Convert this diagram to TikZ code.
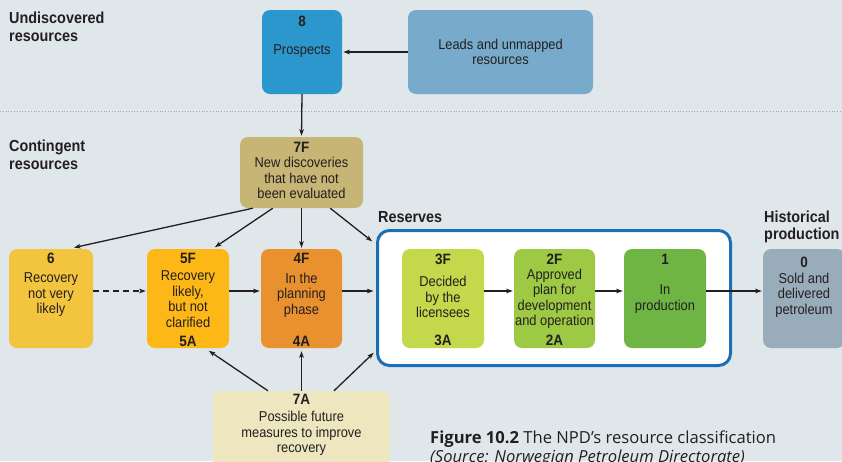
\documentclass[tikz,border=0pt]{standalone}
\usepackage{fontspec}
\setmainfont{Liberation Sans}
\newfontfamily\cond[FakeStretch=0.9]{Liberation Sans}
\newfontfamily\capfont{Open Sans}
\usetikzlibrary{arrows.meta}
\definecolor{bg}{HTML}{DFE7EB}
\definecolor{cpro}{HTML}{2C97CD}
\definecolor{clead}{HTML}{78ABCB}
\definecolor{c7F}{HTML}{C6B574}
\definecolor{c6}{HTML}{F3C43E}
\definecolor{c5}{HTML}{FDB717}
\definecolor{c4}{HTML}{E9912E}
\definecolor{c3}{HTML}{C3D84A}
\definecolor{c2}{HTML}{9DC944}
\definecolor{c1}{HTML}{6FB544}
\definecolor{c0}{HTML}{98ADB9}
\definecolor{c7A}{HTML}{EDE6BE}
\definecolor{cframe}{HTML}{1B6FB6}
\definecolor{ink}{HTML}{231F20}
\tikzset{
  box/.style={rounded corners=8pt, inner sep=0pt, draw=none},
  btxt/.style={inner sep=0pt, align=center, text=ink, font=\cond\fontsize{14.3}{15.5}\selectfont},
  num/.style={inner sep=0pt, text=ink, font=\cond\bfseries\fontsize{15}{16}\selectfont},
  side/.style={inner sep=0pt, anchor=base west, text=ink, font=\cond\bfseries\fontsize{16}{18}\selectfont},
  conn/.style={draw=ink, line width=1.3pt, -{Stealth[length=6.5pt,width=4.5pt,inset=1.5pt]}, shorten >=1pt},
}
\begin{document}
\begin{tikzpicture}[x=1pt,y=-1pt]
\fill[bg] (0,0) rectangle (842,461);
\useasboundingbox (0,0) rectangle (842,461);
\clip (0,0) rectangle (842,461);
% section separator
\draw[gray!70, line width=0.8pt, dotted] (0,111) -- (842,111);
% side labels
\node[side] (lu1) at (9,23.5) {Undiscovered};
\node[side] (lu2) at (9,41.5) {resources};
\node[side] (lc1) at (9,151.5) {Contingent};
\node[side] (lc2) at (9,169.5) {resources};
\node[side] (lr) at (378,222) {Reserves};
\node[side] (lh1) at (764,222) {Historical};
\node[side] (lh2) at (764,239.5) {production};
% reserves frame
\node[draw=cframe, line width=3pt, fill=white, rounded corners=12pt, minimum width=353pt, minimum height=135pt, inner sep=0pt] (res) at (554,298) {};
% boxes
\node[box, fill=cpro, minimum width=80pt, minimum height=84pt] (pro) at (302,52) {};
\node[box, fill=clead, minimum width=185pt, minimum height=84pt] (leads) at (500.5,52) {};
\node[box, fill=c7F, minimum width=123pt, minimum height=71pt] (n7F) at (301.5,172.5) {};
\node[box, fill=c6, minimum width=84pt, minimum height=99pt] (n6) at (51,298.5) {};
\node[box, fill=c5, minimum width=82pt, minimum height=99pt] (n5) at (188,298.5) {};
\node[box, fill=c4, minimum width=81pt, minimum height=99pt] (n4) at (301.5,298.5) {};
\node[box, fill=c3, minimum width=82pt, minimum height=99pt] (n3) at (443,298.5) {};
\node[box, fill=c2, minimum width=81pt, minimum height=99pt] (n2) at (554.5,298.5) {};
\node[box, fill=c1, minimum width=82pt, minimum height=99pt] (n1) at (665,298.5) {};
\node[box, fill=c0, minimum width=82pt, minimum height=99pt] (n0) at (804,298.5) {};
\node[box, fill=c7A, minimum width=177pt, minimum height=80pt] (n7A) at (301.5,431) {};
% box texts
\node[num] (t8) at (302,21) {8};
\node[btxt] (tpro) at (302,51) {Prospects};
\node[btxt] (tleads) at (500.5,52) {Leads and unmapped\\resources};
\node[num] (t7F) at (301.5,147.5) {7F};
\node[btxt] (t7Fx) at (301.5,178) {New discoveries\\that have not\\been evaluated};
\node[num] (t6) at (51,258) {6};
\node[btxt] (t6x) at (51,295) {Recovery\\not very\\likely};
\node[num] (t5F) at (188,258) {5F};
\node[btxt] (t5x) at (188,299) {Recovery\\likely,\\but not\\clarified};
\node[num] (t5A) at (188,341) {5A};
\node[num] (t4F) at (301.5,258) {4F};
\node[btxt] (t4x) at (301.5,295) {In the\\planning\\phase};
\node[num] (t4A) at (301.5,341) {4A};
\node[num] (t3F) at (443,259) {3F};
\node[btxt] (t3x) at (443,297) {Decided\\by the\\licensees};
\node[num] (t3A) at (443,340) {3A};
\node[num] (t2F) at (554.5,259) {2F};
\node[btxt] (t2x) at (554.5,299) {Approved\\plan for\\development\\and operation};
\node[num] (t2A) at (554.5,340) {2A};
\node[num] (t1) at (665,259) {1};
\node[btxt] (t1x) at (665,299) {In\\production};
\node[num] (t0) at (804,262) {0};
\node[btxt] (t0x) at (804,295) {Sold and\\delivered\\petroleum};
\node[num] (t7A) at (301.5,399) {7A};
\node[btxt] (t7Ax) at (301.5,433.5) {Possible future\\measures to improve\\recovery};
% caption
\node[inner sep=0pt, anchor=base west, text=ink, font=\capfont\fontsize{16.6}{19}\selectfont] (cap1) at (430,443) {\textbf{Figure 10.2} The NPD’s resource classification};
\node[inner sep=0pt, anchor=base west, text=ink, font=\capfont\itshape\fontsize{16.6}{19}\selectfont] (cap2) at (430,462) {(Source: Norwegian Petroleum Directorate)};
% connectors
\draw[conn] (leads.west) -- (pro.east);
\draw[conn] (pro.south) -- (n7F.north);
\draw[conn] ([xshift=13pt]n7F.south west) -- ([xshift=22pt,yshift=1pt]n6.north);
\draw[conn] ([xshift=33pt]n7F.south west) -- ([xshift=26pt,yshift=1pt]n5.north);
\draw[conn] (n7F.south) -- (n4.north);
\draw[conn] ([xshift=-33pt]n7F.south east) -- ([xshift=-3pt,yshift=-13pt]res.north west);
\draw[conn, dashed, dash pattern=on 6pt off 4pt] ([yshift=7.5pt]n6.east) -- ([yshift=7.5pt]n5.west);
\draw[conn] ([yshift=7.5pt]n5.east) -- ([yshift=7.5pt]n4.west);
\draw[conn] ([yshift=7.5pt]n4.east) -- ([xshift=-1.5pt,yshift=7pt]res.west);
\draw[conn] ([yshift=7.5pt]n3.east) -- ([yshift=7.5pt]n2.west);
\draw[conn] ([yshift=7.5pt]n2.east) -- ([yshift=7.5pt]n1.west);
\draw[conn] ([yshift=7.5pt]n1.east) -- ([yshift=7.5pt]n0.west);
\draw[conn] ([xshift=-33.5pt]n7A.north) -- ([xshift=20pt,yshift=-2pt]n5.south);
\draw[conn] (n7A.north) -- ([yshift=-2pt]n4.south);
\draw[conn] ([xshift=32.5pt]n7A.north) -- ([xshift=-1.5pt,yshift=15pt]res.south west);
\end{tikzpicture}
\end{document}
